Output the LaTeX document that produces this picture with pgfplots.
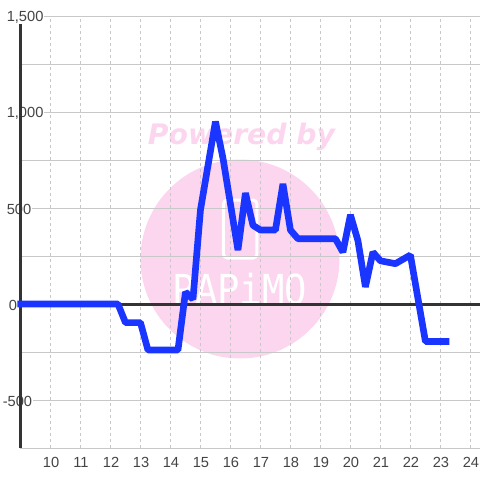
\documentclass[border=0pt]{standalone}
\usepackage{fontspec}
\setmainfont{Liberation Sans}
\newfontfamily\wmfont{DejaVu Sans}
\newfontfamily\logofont{DejaVu Sans Mono}
\usepackage{pgfplots}
\pgfplotsset{compat=1.18}
\definecolor{bluel}{HTML}{1A35FF}
\definecolor{wm}{HTML}{FBD6EE}
\definecolor{gridc}{HTML}{C8C8C8}
\definecolor{dark}{HTML}{333333}
\definecolor{lab}{HTML}{444444}
\begin{document}
\begin{tikzpicture}[x=0.75pt,y=0.75pt]
\path[use as bounding box] (0,0) rectangle (480,480);
% watermark (image coordinates: y up from the bottom)
\fill[wm] (240,221) circle (99.5);
\node[text=wm,font=\wmfont\bfseries\itshape\fontsize{21.2pt}{24pt}\selectfont,anchor=center] at (241.5,343.5) {Powered by};
\draw[white,line width=2.25pt,rounded corners=3pt] (223.5,222) rectangle (257,280);
\node[text=white,font=\logofont\fontsize{31pt}{31pt}\selectfont,anchor=center,xscale=0.9,draw=none] at (240,191) {PAPiMO};
\begin{axis}[
  at={(15.375pt,24pt)},anchor=south west,
  width=344.625pt,height=324pt,scale only axis,
  xmin=9,xmax=24.32,ymin=-750,ymax=1500,
  clip=false,
  axis line style={draw=none},
  major tick length=0pt,minor tick length=0pt,
  xtick={10,11,12,13,14,15,16,17,18,19,20,21,22,23,24},
  xticklabels={10,11,12,13,14,15,16,17,18,19,20,21,22,23,24},
  ytick={-500,0,500,1000,1500},
  yticklabels={-500,\hspace*{4.5pt}0,\hspace*{3pt}500,\hspace*{3pt}{1,000},\hspace*{3pt}{1,500}},
  minor ytick={-750,-250,250,750,1250},
  grid=both,
  x grid style={gridc,line width=0.75pt,dash pattern=on 2.25pt off 2.25pt},
  y grid style={gridc,line width=0.75pt},
  minor grid style={gridc,line width=0.75pt},
  ticklabel style={font=\fontsize{11pt}{12pt}\selectfont,text=lab},
  yticklabel style={anchor=west,xshift=-14.25pt,yshift=-0.9pt,fill=white,inner xsep=0.75pt,inner ysep=0pt,minimum height=12pt},
  xticklabel style={anchor=center,xshift=0.4pt,yshift=-10.9pt},
]
\addplot[dark,line width=2.25pt,forget plot] coordinates {(9,-750) (9,1458)};
\addplot[dark,line width=2.25pt,forget plot] coordinates {(9,0) (24.32,0)};
\addplot[bluel,line width=5pt,line join=bevel,forget plot] coordinates {
(8.9,0) (12.25,0) (12.5,-97) (13,-97) (13.25,-240) (14.25,-240) (14.5,62) (14.75,25) (15,490)
(15.5,950) (15.75,760) (16.25,281) (16.5,578) (16.75,410) (17,385) (17.5,385) (17.75,625) (18,385)
(18.25,340) (19.5,340) (19.75,270) (20,464) (20.25,330) (20.5,89) (20.75,270) (21,225) (21.5,210)
(22,255) (22.5,-195) (23.3,-195)};
\end{axis}
\end{tikzpicture}
\end{document}
